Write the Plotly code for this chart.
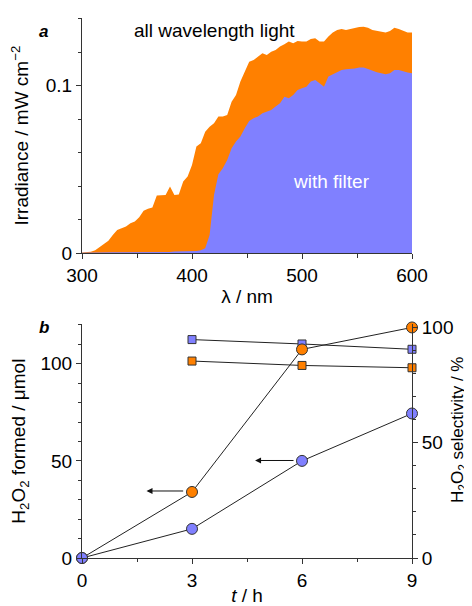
import plotly.graph_objects as go

# ---------------- Panel a: irradiance spectra ----------------
wavelength = [300, 304, 308, 312, 316, 320, 324, 328, 332, 336, 340, 344, 348, 352, 356,
              360, 364, 368, 372, 376, 380, 384, 388, 392, 396, 400, 404, 408, 412, 416,
              420, 424, 428, 432, 436, 440, 444, 448, 452, 456, 460, 464, 468, 472, 476,
              480, 484, 488, 492, 496, 500, 504, 508, 512, 516, 520, 524, 528, 532, 536,
              540, 544, 548, 552, 556, 560, 564, 568, 572, 576, 580, 584, 588, 592, 596, 600]
irr_all = [0.0004, 0.0004, 0.0008, 0.0018, 0.0036, 0.0058, 0.0074, 0.0109, 0.0139, 0.0149,
           0.0159, 0.0179, 0.0189, 0.0215, 0.0253, 0.0265, 0.0273, 0.0344, 0.0348, 0.0348,
           0.0398, 0.0348, 0.0350, 0.0428, 0.0458, 0.0527, 0.0637, 0.0657, 0.0726, 0.0756,
           0.0776, 0.0816, 0.0816, 0.0826, 0.0905, 0.0945, 0.1025, 0.1085, 0.1144, 0.1154,
           0.1174, 0.1194, 0.1184, 0.1204, 0.1214, 0.1234, 0.1248, 0.1264, 0.1254, 0.1268,
           0.1264, 0.1264, 0.1280, 0.1284, 0.1264, 0.1264, 0.1294, 0.1319, 0.1333, 0.1339,
           0.1333, 0.1339, 0.1347, 0.1351, 0.1353, 0.1347, 0.1333, 0.1327, 0.1323, 0.1319,
           0.1327, 0.1347, 0.1339, 0.1327, 0.1319, 0.1319]
irr_filter = [0.0002, 0.0003, 0.0004, 0.0005, 0.0005, 0.0005, 0.0005, 0.0005, 0.0005, 0.0005,
              0.0005, 0.0007, 0.0007, 0.0007, 0.0007, 0.0007, 0.0007, 0.0007, 0.0007, 0.0007,
              0.0007, 0.0010, 0.0010, 0.0010, 0.0010, 0.0010, 0.0013, 0.0018, 0.0030, 0.0109,
              0.0348, 0.0472, 0.0507, 0.0557, 0.0627, 0.0667, 0.0697, 0.0746, 0.0790, 0.0806,
              0.0816, 0.0836, 0.0846, 0.0856, 0.0876, 0.0896, 0.0935, 0.0925, 0.0945, 0.0975,
              0.0985, 0.0995, 0.1025, 0.1035, 0.1015, 0.0995, 0.1055, 0.1069, 0.1085, 0.1095,
              0.1099, 0.1101, 0.1104, 0.1110, 0.1110, 0.1101, 0.1089, 0.1081, 0.1075, 0.1069,
              0.1075, 0.1095, 0.1095, 0.1085, 0.1079, 0.1075]

a_xtick_vals = [300, 400, 500, 600]
a_xtick_text = ["300", "400", "500", "600"]
a_xminor_vals = [350, 450, 550]
a_ytick_vals = [0, 0.1]
a_ytick_text = ["0", "0.1"]
a_yminor_vals = [0.02, 0.04, 0.06, 0.08, 0.12, 0.14]

# ---------------- Panel b: H2O2 formation ----------------
time_h = [0, 3, 6, 9]
h2o2_all = [0, 34, 107.4, 118.7]
h2o2_filter = [0, 15, 50, 74.4]
sel_time = [3, 6, 9]
sel_all = [85.3, 83.4, 82.4]
sel_filter = [94.6, 92.7, 90.4]

b_xtick_vals = [0, 3, 6, 9]
b_xtick_text = ["0", "3", "6", "9"]
b_xminor_vals = [1.5, 4.5, 7.5]
b_left_tick_vals = [0, 50, 100]
b_left_minor_vals = [10, 20, 30, 40, 60, 70, 80, 90, 110, 120]
b_right_tick_vals = [0, 50, 100]
b_right_minor_vals = [10, 20, 30, 40, 60, 70, 80, 90]

# arrows (head t, tail t, level on left axis)
arrow_head_t = [1.76, 4.72]
arrow_tail_t = [2.80, 5.81]
arrow_level = [34.5, 50.2]

ORANGE = "#FF8000"
BLUE = "#8080FF"
AX = "#333333"
FONT = "Arial, 'Liberation Sans', sans-serif"

# the page body adds an 8 px margin, so the figure is 8 px smaller and shifted
PAGE_OFF = 8
W, H = 472 - PAGE_OFF, 606 - PAGE_OFF
ML, MR, MT, MB = 82 - PAGE_OFF, 60, 18 - PAGE_OFF, 48
PW, PH = W - ML - MR, H - MT - MB


def px_to_paper(px, py):
    # px, py are window pixel positions
    return (px - PAGE_OFF - ML) / PW, (H - MB - (py - PAGE_OFF)) / PH


fig = go.Figure()

fig.add_trace(go.Scatter(x=wavelength, y=irr_all, mode="lines", line=dict(width=0, color=ORANGE),
                         fill="tozeroy", fillcolor=ORANGE, xaxis="x", yaxis="y", hoverinfo="skip"))
fig.add_trace(go.Scatter(x=wavelength, y=irr_filter, mode="lines", line=dict(width=0, color=BLUE),
                         fill="tozeroy", fillcolor=BLUE, xaxis="x", yaxis="y", hoverinfo="skip"))

# selectivity (base right axis y2)
fig.add_trace(go.Scatter(x=sel_time, y=sel_filter, mode="lines+markers", xaxis="x2", yaxis="y2",
                         line=dict(color="#222", width=1),
                         marker=dict(symbol="square", size=8, color=BLUE, line=dict(color="#333", width=1)),
                         cliponaxis=False))
fig.add_trace(go.Scatter(x=sel_time, y=sel_all, mode="lines+markers", xaxis="x2", yaxis="y2",
                         line=dict(color="#222", width=1),
                         marker=dict(symbol="square", size=8, color=ORANGE, line=dict(color="#333", width=1)),
                         cliponaxis=False))
# H2O2 amount (left axis y3 overlaying)
fig.add_trace(go.Scatter(x=time_h, y=h2o2_all, mode="lines+markers", xaxis="x2", yaxis="y3",
                         line=dict(color="#222", width=1),
                         marker=dict(symbol="circle", size=11, color=ORANGE, line=dict(color="#333", width=1)),
                         cliponaxis=False))
fig.add_trace(go.Scatter(x=time_h, y=h2o2_filter, mode="lines+markers", xaxis="x2", yaxis="y3",
                         line=dict(color="#222", width=1),
                         marker=dict(symbol="circle", size=11, color=BLUE, line=dict(color="#333", width=1)),
                         cliponaxis=False))

common = dict(showline=True, linecolor=AX, linewidth=1, ticks="outside", ticklen=5, tickcolor=AX,
              tickwidth=1, showgrid=False, zeroline=False, automargin=False,
              tickfont=dict(size=19, color="black", family=FONT))

fig.update_layout(
    template="none",
    width=W, height=H,
    margin=dict(l=ML, r=MR, t=MT, b=MB),
    paper_bgcolor="white", plot_bgcolor="white",
    showlegend=False,
    font=dict(family=FONT, color="black", size=19),
    xaxis=dict(domain=[0, 1], anchor="y", range=[300, 600], tickvals=a_xtick_vals, ticktext=a_xtick_text,
               minor=dict(tickvals=a_xminor_vals, ticklen=4, ticks="outside", tickcolor=AX),
               title=dict(text="λ / nm", standoff=4, font=dict(size=19)), **common),
    yaxis=dict(domain=[0.5645, 1], anchor="x", range=[0, 0.1405], tickvals=a_ytick_vals, ticktext=a_ytick_text,
               minor=dict(tickvals=a_yminor_vals, ticklen=3, ticks="outside", tickcolor=AX),
               title=dict(text="Irradiance / mW cm<sup>−2</sup>", standoff=14, font=dict(size=19)), **common),
    xaxis2=dict(domain=[0, 1], anchor="y2", range=[0, 9], tickvals=b_xtick_vals, ticktext=b_xtick_text,
                minor=dict(tickvals=b_xminor_vals, ticklen=3, ticks="outside", tickcolor=AX),
                title=dict(text="<i>t</i> / h", standoff=4, font=dict(size=19)), **common),
    yaxis2=dict(domain=[0, 0.4327], anchor="x2", side="right", range=[0, 101.2], tickvals=b_right_tick_vals,
                minor=dict(tickvals=b_right_minor_vals, ticklen=3, ticks="outside", tickcolor=AX),
                **common),
    yaxis3=dict(overlaying="y2", anchor="x2", side="left", range=[0, 120.3], tickvals=b_left_tick_vals,
                minor=dict(tickvals=b_left_minor_vals, ticklen=3, ticks="outside", tickcolor=AX),
                title=dict(text="H<sub>2</sub>O<sub>2</sub> formed / μmol", standoff=10, font=dict(size=19)), **common),
)

ax_, ay_ = px_to_paper(37, 20)
bx_, by_ = px_to_paper(37, 327)
rx_, ry_ = px_to_paper(459, 430)
annotations = [
    dict(text="all wavelength light", x=420.2, y=0.1329, xref="x", yref="y", showarrow=False,
         font=dict(size=19, color="black")),
    dict(text="with filter", x=526.8, y=0.0427, xref="x", yref="y", showarrow=False,
         font=dict(size=19, color="white")),
    dict(text="<b><i>a</i></b>", x=ax_, y=ay_, xref="paper", yref="paper", showarrow=False,
         font=dict(size=17, color="black")),
    dict(text="<b><i>b</i></b>", x=bx_, y=by_, xref="paper", yref="paper", showarrow=False,
         font=dict(size=17, color="black")),
    dict(text="H<sub>2</sub>O<sub>2</sub> selectivity / %", x=rx_, y=ry_, xref="paper", yref="paper",
         showarrow=False, textangle=-90, xanchor="center", yanchor="middle",
         font=dict(size=17, color="black")),
]
fig.update_layout(annotations=annotations)
for i in range(2):
    fig.add_annotation(x=arrow_head_t[i], y=arrow_level[i], ax=arrow_tail_t[i], ay=arrow_level[i],
                       xref="x2", yref="y3", axref="x2", ayref="y3", text="", showarrow=True,
                       arrowhead=2, arrowsize=1.2, arrowwidth=1, arrowcolor="#111")

fig.write_html("out.html")
